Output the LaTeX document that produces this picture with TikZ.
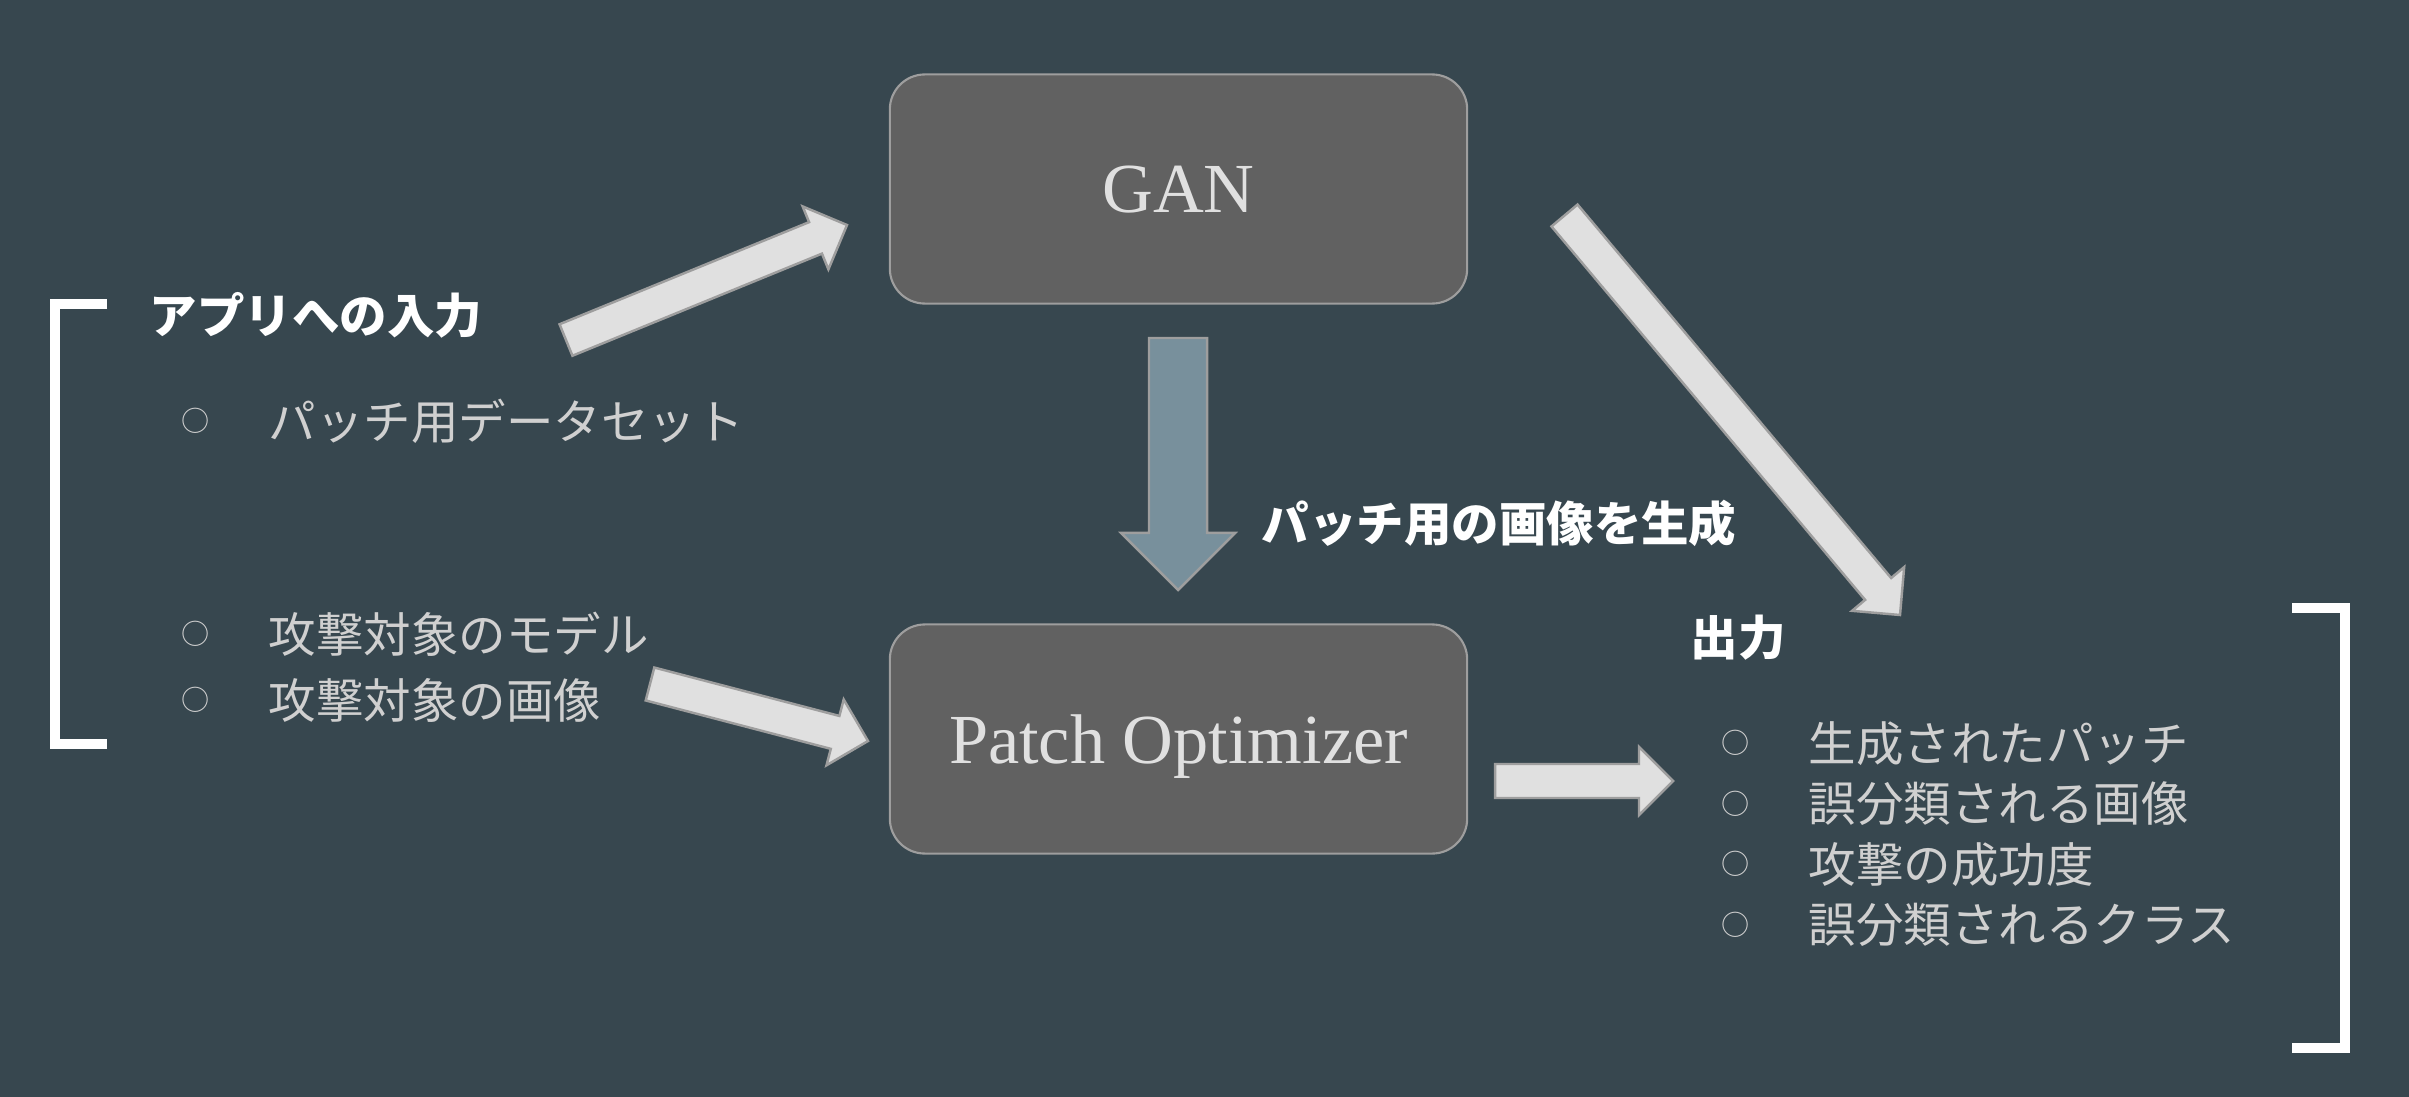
\documentclass[tikz,border=0pt]{standalone}
\usepackage{fontspec}
\setmainfont{Noto Sans CJK JP}
\newfontfamily\modelfont{Liberation Serif}
\usetikzlibrary{calc}

\definecolor{bg}{HTML}{37474F}
\definecolor{boxfill}{HTML}{616161}
\definecolor{boxline}{HTML}{9E9E9E}
\definecolor{arrowfill}{HTML}{E0E0E0}
\definecolor{downfill}{HTML}{78909C}
\definecolor{itemtext}{HTML}{D0D0D0}

\tikzset{
  modelbox/.style={draw=boxline, line width=0.6pt, fill=boxfill, rounded corners=0.35cm,
    minimum width=5.77cm, minimum height=2.29cm, text=arrowfill, text depth=0pt,
    font=\modelfont\fontsize{20pt}{24pt}\selectfont},
  heading/.style={anchor=base west, inner sep=0pt, text=white,
    font=\bfseries\fontsize{13.5pt}{16pt}\selectfont},
  item/.style={anchor=base west, inner sep=0pt, text=itemtext,
    font=\fontsize{13.5pt}{16pt}\selectfont},
  bigarrow/.style={draw=boxline, line width=0.7pt, fill=arrowfill, line join=miter},
  bracket/.style={draw=white, line width=0.1cm},
}

% bullet before each list line
\newcommand{\bulletitem}[1]{\makebox[0.87cm][l]{\raisebox{2pt}{\fontsize{8pt}{8pt}\selectfont ○}}#1}
% block arrow: style, tail, tip, half shaft width, half head width (= head length)
\newcommand{\blockarrow}[5]{%
  \coordinate (hb) at ($(#3)!#5!(#2)$);
  \draw[#1] ($(#2)!#4!90:(#3)$) -- ($(hb)!#4!90:(#3)$) -- ($(hb)!#5!90:(#3)$) -- (#3)
    -- ($(hb)!#5!-90:(#3)$) -- ($(hb)!#4!-90:(#3)$) -- ($(#2)!#4!-90:(#3)$) -- cycle;
}

\begin{document}
\begin{tikzpicture}[x=0.01cm, y=-0.01cm]
\fill[bg] (0,0) rectangle (2409,1097);
\useasboundingbox (0,0) rectangle (2409,1097);

% Modelos
\node[modelbox] (gan) at (1178.5,189) {GAN};
\node[modelbox] (patch) at (1178.5,739) {Patch Optimizer};

% Entradas
\draw[bracket] (107,304) -- (55,304) -- (55,744) -- (107,744);
\node[heading] (inhead) at (149,333) {アプリへの入力};
\node[item] (in1) at (181,439) {\bulletitem{パッチ用データセット}};
\node[item] (in2) at (181,652) {\bulletitem{攻撃対象のモデル}};
\node[item] (in3) at (181,718) {\bulletitem{攻撃対象の画像}};

% Salidas
\draw[bracket] (2292,608) -- (2345,608) -- (2345,1048) -- (2292,1048);
\node[heading] (outhead) at (1690,655) {出力};
\foreach \t [count=\i] in {生成されたパッチ,誤分類される画像,攻撃の成功度,誤分類されるクラス} {
    \node[item] (out\i) at (1721,{761+60.5*(\i-1)}) {\bulletitem{\t}};
}

\node[heading] (genlabel) at (1261,541) {パッチ用の画像を生成};

% Flechas
\coordinate (inA) at (566,340);   \coordinate (ganIn) at (847,225);
\coordinate (inB) at (650,684);   \coordinate (patchIn) at (868,741);
\coordinate (ganOut) at (1564.5,215.5); \coordinate (outA) at (1900,615);
\coordinate (patchOut) at (1495,781);  \coordinate (outB) at (1673,781);
\coordinate (ganDown) at (1178,338);   \coordinate (patchTop) at (1178,590);

\blockarrow{bigarrow}{inA}{ganIn}{0.17cm}{0.34cm}
\blockarrow{bigarrow}{inB}{patchIn}{0.17cm}{0.34cm}
\blockarrow{bigarrow}{ganOut}{outA}{0.17cm}{0.34cm}
\blockarrow{bigarrow}{patchOut}{outB}{0.17cm}{0.34cm}
\blockarrow{bigarrow, fill=downfill}{ganDown}{patchTop}{0.29cm}{0.57cm}

\end{tikzpicture}
\end{document}
